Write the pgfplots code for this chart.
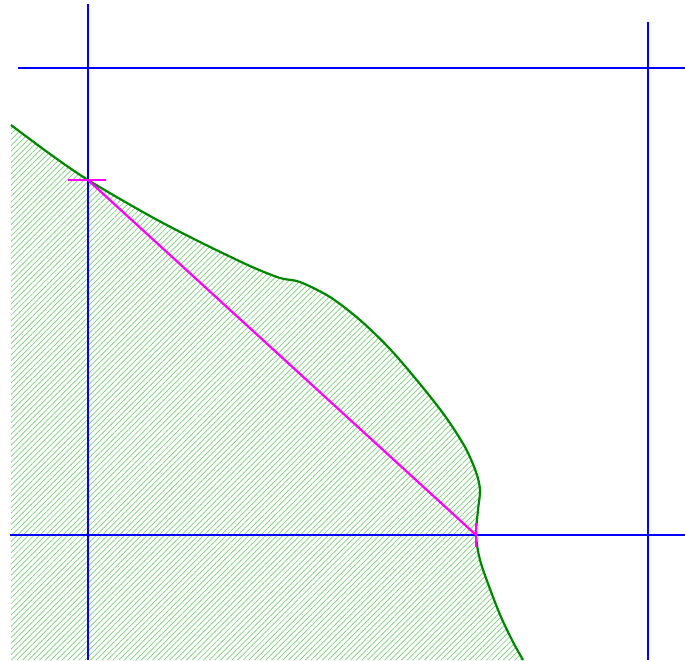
\documentclass[border=0pt]{standalone}
\usepackage{pgfplots}
\pgfplotsset{compat=1.18}
\usetikzlibrary{patterns.meta}
\definecolor{curvegreen}{RGB}{0,135,0}
\definecolor{hatchgreen}{RGB}{120,205,120}
\definecolor{pureblue}{RGB}{0,0,255}
\definecolor{puremagenta}{RGB}{255,0,255}
\begin{document}
\begin{tikzpicture}
\begin{axis}[
  scale only axis, width=342.5pt, height=330pt,
  xmin=0, xmax=685, ymin=0, ymax=660,
  hide axis, clip=true,
]
% bounding frame (invisible)
\addplot[draw=none] coordinates {(0,0) (685,660)};
% hatched region
\addplot[draw=none, smooth, pattern={Lines[angle=45,distance=2.0pt,line width=0.35pt]}, pattern color=hatchgreen]
 coordinates {(11,535) (50,506) (88,480) (150,444) (200,418) (250,394) (280,382) (300,378) (330,363) (360,340) (390,311) (420,276) (445,244) (465,213) (476,188) (480,170) (478,150) (476,125) (480,100) (490,71) (501,43) (513,18) (523,0)} \closedcycle;
% curve
\addplot[curvegreen, line width=1.1pt, smooth]
 coordinates {(11,535) (50,506) (88,480) (150,444) (200,418) (250,394) (280,382) (300,378) (330,363) (360,340) (390,311) (420,276) (445,244) (465,213) (476,188) (480,170) (478,150) (476,125) (480,100) (490,71) (501,43) (513,18) (523,0)};
% blue lines
\addplot[pureblue, line width=1.3pt] coordinates {(88,656) (88,0)};
\addplot[pureblue, line width=1.3pt] coordinates {(648,638) (648,0)};
\addplot[pureblue, line width=1.3pt] coordinates {(18,592) (685,592)};
\addplot[pureblue, line width=1.3pt] coordinates {(10,125) (685,125)};
% magenta
\addplot[puremagenta, line width=1.1pt] coordinates {(88,480) (476,125)};
\addplot[puremagenta, line width=1.1pt] coordinates {(68,480) (106,480)};
\addplot[puremagenta, line width=1.1pt] coordinates {(476,137) (476,113)};
\end{axis}
\end{tikzpicture}
\end{document}
